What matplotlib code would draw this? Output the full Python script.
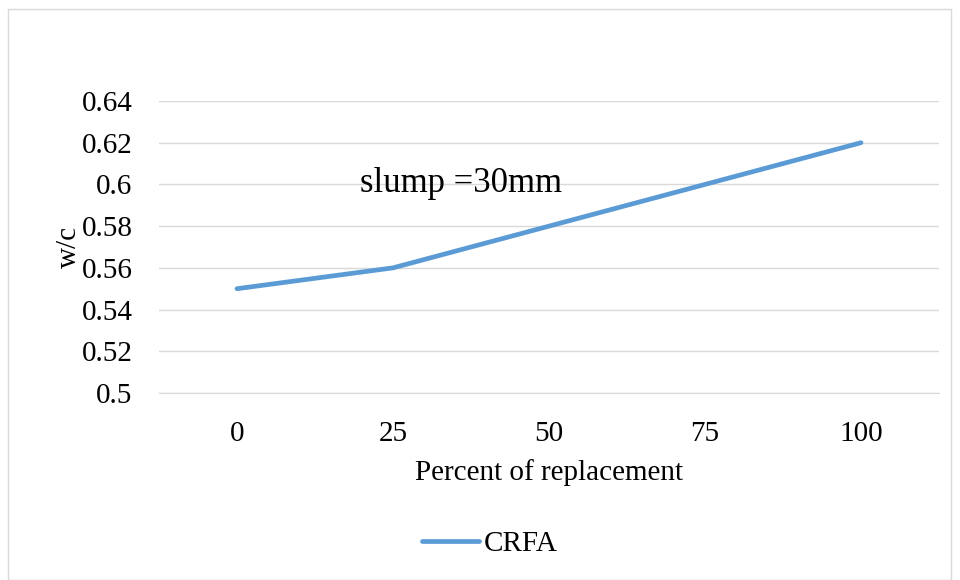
import matplotlib.pyplot as plt
from matplotlib.patches import Rectangle

categories = ['0', '25', '50', '75', '100']
wc_values = [0.55, 0.56, 0.58, 0.60, 0.62]
y_ticks = [0.5, 0.52, 0.54, 0.56, 0.58, 0.6, 0.62, 0.64]
y_tick_labels = ['0.5', '0.52', '0.54', '0.56', '0.58', '0.6', '0.62', '0.64']

plt.rcParams['font.family'] = ['Liberation Serif', 'DejaVu Serif']

fig = plt.figure(figsize=(9.6, 5.8), dpi=100)
fig.patches.append(Rectangle((8 / 960, 0), 943 / 960, 571 / 580, transform=fig.transFigure,
                             fill=False, edgecolor='#D9D9D9', linewidth=1))

ax = fig.add_axes([159 / 960, 1 - 393 / 580, 780 / 960, 292 / 580])
x = range(len(categories))
ax.plot(x, wc_values, color='#5B9BD5', linewidth=3.4, label='CRFA', solid_capstyle='round')

ax.set_xlim(-0.5, len(categories) - 0.5)
ax.set_ylim(0.5, 0.64)
ax.set_xticks(list(x))
ax.set_xticklabels(categories)
ax.set_yticks(y_ticks)
ax.set_yticklabels(y_tick_labels)
ax.tick_params(axis='both', length=0, labelsize=21, colors='black')
ax.tick_params(axis='x', pad=20)
ax.tick_params(axis='y', pad=19)
ax.grid(axis='y', color='#D9D9D9', linewidth=1)
ax.set_axisbelow(True)
for s in ['top', 'right', 'left']:
    ax.spines[s].set_visible(False)
ax.spines['bottom'].set_color('#D9D9D9')

ax.set_xlabel('Percent of replacement', fontsize=21, labelpad=9)
ax.set_ylabel('w/c', fontsize=21, labelpad=0)

fig.text(461 / 960, 1 - 183 / 580, 'slump =30mm', fontsize=25, ha='center', va='center')

fig.legend(loc='center', bbox_to_anchor=(490 / 960, 1 - 544 / 580), frameon=False,
           fontsize=21, handlelength=1.95, handletextpad=0.15)

fig.savefig('out.png', dpi=100)
